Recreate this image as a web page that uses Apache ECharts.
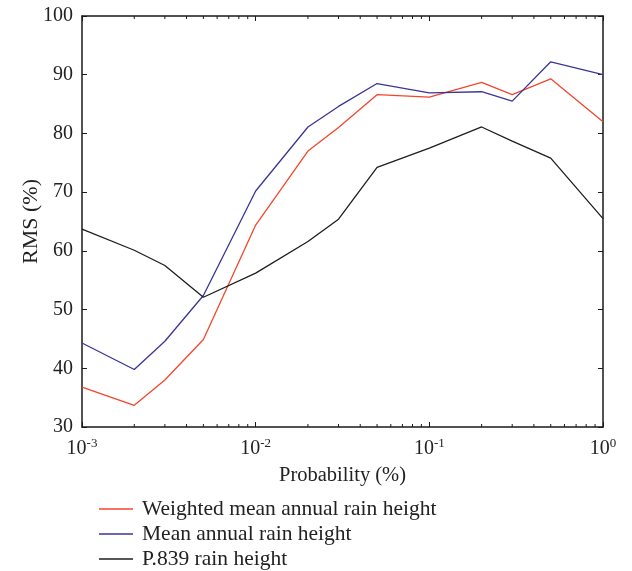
<!DOCTYPE html>
<html>
<head>
<meta charset="utf-8">
<script src="https://cdn.jsdelivr.net/npm/echarts@6/dist/echarts.min.js"></script>
<style>html,body{margin:0;padding:0;background:#fff}#c{width:632px;height:571px}</style>
</head>
<body>
<div id="c"></div>
<script>
const probabilities = [0.001, 0.002, 0.003, 0.005, 0.01, 0.02, 0.03, 0.05, 0.1, 0.2, 0.3, 0.5, 1];
const weightedMean = [36.8, 33.7, 38.0, 44.9, 64.4, 77.0, 81.0, 86.6, 86.2, 88.7, 86.6, 89.3, 82.0];
const meanAnnual   = [44.3, 39.8, 44.6, 52.4, 70.2, 81.1, 84.6, 88.5, 86.9, 87.1, 85.5, 92.2, 90.0];
const p839         = [63.7, 60.1, 57.5, 52.1, 56.2, 61.6, 65.4, 74.2, 77.5, 81.1, 78.7, 75.8, 65.5];
const seriesNames = ['Weighted mean annual rain height', 'Mean annual rain height', 'P.839 rain height'];
const minorTickValues = [0.002,0.003,0.004,0.005,0.006,0.007,0.008,0.009,
                         0.02,0.03,0.04,0.05,0.06,0.07,0.08,0.09,
                         0.2,0.3,0.4,0.5,0.6,0.7,0.8,0.9];

const FONT = 'Liberation Serif';
const colors = ['#f2472c', '#3b3598', '#1e1e1e'];
const axisColor = '#1a1a1a';

function pairs(vals){ return probabilities.map((p,i)=>[p, vals[i]]); }

const chart = echarts.init(document.getElementById('c'), null, {renderer:'canvas'});
const logLabel = v => {
  const e = Math.round(Math.log10(v));
  return '{b|10}{s|' + e + '}';
};
const lineIcon = 'path://M0,0 L34,0 L34,1.6 L0,1.6 Z';

chart.setOption({
  animation: false,
  backgroundColor: '#fff',
  textStyle: {fontFamily: FONT},
  grid: {left: 82, right: 29, top: 16, bottom: 144, containLabel: false},
  legend: {
    orient: 'vertical', left: 99, top: 498, padding: 0, height: 90, width: 400,
    itemWidth: 34, itemHeight: 2, itemGap: 3,
    icon: lineIcon,
    data: seriesNames,
    textStyle: {fontFamily: FONT, fontSize: 21.5, color: '#222', padding: [0,0,0,4], lineHeight: 20}
  },
  xAxis: [{
    type: 'log', logBase: 10, min: 0.001, max: 1, position: 'bottom',
    name: 'Probability (%)', nameLocation: 'middle', nameGap: 33,
    nameTextStyle: {fontFamily: FONT, fontSize: 20.5, color: '#222'},
    axisLine: {show: true, lineStyle: {color: axisColor, width: 1.5}},
    axisTick: {show: true, inside: true, length: 5, lineStyle: {color: axisColor, width: 1}},
    splitLine: {show: false},
    axisLabel: {
      formatter: logLabel, margin: 10,
      rich: {
        b: {fontFamily: FONT, fontSize: 20, color: '#222', lineHeight: 22, verticalAlign: 'bottom'},
        s: {fontFamily: FONT, fontSize: 13, color: '#222', lineHeight: 22, verticalAlign: 'top', padding: [0,0,10,0]}
      }
    }
  }, {
    type: 'log', logBase: 10, min: 0.001, max: 1, position: 'top',
    axisLine: {show: true, lineStyle: {color: axisColor, width: 1.5}},
    axisTick: {show: true, inside: true, length: 5, lineStyle: {color: axisColor, width: 1}},
    axisLabel: {show: false}, splitLine: {show: false}
  }],
  yAxis: [{
    type: 'value', min: 30, max: 100, interval: 10, position: 'left',
    name: 'RMS (%)', nameLocation: 'middle', nameGap: 40, nameMoveOverlap: false,
    nameTextStyle: {fontFamily: FONT, fontSize: 22, color: '#222'},
    axisLine: {show: true, lineStyle: {color: axisColor, width: 1.5}},
    axisTick: {show: true, inside: true, length: 5, lineStyle: {color: axisColor, width: 1}},
    splitLine: {show: false},
    axisLabel: {fontFamily: FONT, fontSize: 20, color: '#222', margin: 9}
  }, {
    type: 'value', min: 30, max: 100, interval: 10, position: 'right',
    axisLine: {show: true, lineStyle: {color: axisColor, width: 1.5}},
    axisTick: {show: true, inside: true, length: 5, lineStyle: {color: axisColor, width: 1}},
    axisLabel: {show: false}, splitLine: {show: false}
  }],
  series: [
    {name: seriesNames[0], type: 'line', data: pairs(weightedMean), showSymbol: false, symbol: 'none',
     itemStyle: {color: colors[0]}, lineStyle: {color: colors[0], width: 1.3}},
    {name: seriesNames[1], type: 'line', data: pairs(meanAnnual), showSymbol: false, symbol: 'none',
     itemStyle: {color: colors[1]}, lineStyle: {color: colors[1], width: 1.3}},
    {name: seriesNames[2], type: 'line', data: pairs(p839), showSymbol: false, symbol: 'none',
     itemStyle: {color: colors[2]}, lineStyle: {color: colors[2], width: 1.3}},
    {
      type: 'custom', silent: true,
      data: minorTickValues.map(v => [v, 30]),
      renderItem: function(params, api){
        const x = api.value(0);
        const b = api.coord([x, 30]);
        const t = api.coord([x, 100]);
        return {type: 'group', children: [
          {type: 'line', shape: {x1: b[0], y1: b[1], x2: b[0], y2: b[1]-3}, style: {stroke: axisColor, lineWidth: 1}},
          {type: 'line', shape: {x1: t[0], y1: t[1], x2: t[0], y2: t[1]+3}, style: {stroke: axisColor, lineWidth: 1}}
        ]};
      }
    }
  ]
});
</script>
</body>
</html>
